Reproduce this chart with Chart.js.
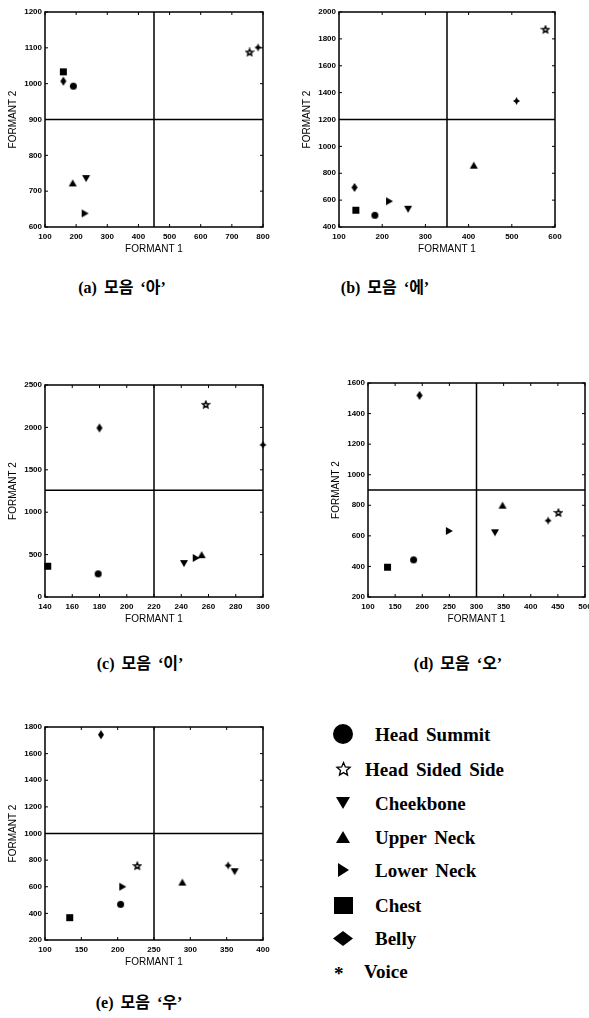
<!DOCTYPE html>
<html>
<head>
<meta charset="utf-8">
<script src="https://cdn.jsdelivr.net/npm/chart.js@4.4.1/dist/chart.umd.min.js"></script>
<style>
body { margin: 0; width: 589px; height: 1018px; overflow: hidden; background: #fff; position: relative; }
canvas { position: absolute; }
.cap { position: absolute; transform: translate(-50%, -50%); font: bold 16px "Liberation Serif", "Noto Sans CJK KR"; white-space: nowrap; word-spacing: 3px; line-height: 1; }
.leg { position: absolute; transform: translateY(-50%); font: bold 19px "Liberation Serif"; white-space: nowrap; word-spacing: 3px; line-height: 1; }
</style>
</head>
<body>
<script>
// categories (marker order)
const categories = ['Head Summit', 'Head Sided Side', 'Cheekbone', 'Upper Neck', 'Lower Neck', 'Chest', 'Belly', 'Voice'];
const captions = ["(a) 모음 ‘아’", "(b) 모음 ‘에’", "(c) 모음 ‘이’", "(d) 모음 ‘오’", "(e) 모음 ‘우’"];

// formant values per vowel
const f1A = [191, 757, 232, 189, 229, 159, 159, 784];
const f2A = [993, 1087, 735, 723, 638, 1033, 1007, 1101];
const f1B = [183, 578, 260, 412, 217, 139, 136, 511];
const f2B = [487, 1868, 532, 860, 592, 525, 694, 1338];
const f1C = [179, 258, 242, 255, 251, 142, 180, 300];
const f2C = [273, 2266, 394, 499, 460, 363, 1993, 1794];
const f1D = [184, 451, 334, 348, 250, 136, 195, 432];
const f2D = [443, 750, 620, 801, 632, 395, 1519, 700];
const f1E = [204, 227, 361, 289, 207, 134, 177, 352];
const f2E = [468, 755, 713, 635, 600, 368, 1742, 760];

// axis ticks: [min, max, step]
const xAxisA = [100, 800, 100], yAxisA = [600, 1200, 100];
const xAxisB = [100, 600, 100], yAxisB = [400, 2000, 200];
const xAxisC = [140, 300, 20], yAxisC = [0, 2500, 500];
const xAxisD = [100, 500, 50], yAxisD = [200, 1600, 200];
const xAxisE = [100, 400, 50], yAxisE = [200, 1800, 200];

// quadrant split lines [formant1, formant2]
const splitA = [450, 900];
const splitB = [350, 1200];
const splitC = [220, 1260];
const splitD = [300, 900];
const splitE = [250, 1000];

// layout
const YW = 40, PT = 10, PR = 12, XH = 28;
const panels = [
    { f1: f1A, f2: f2A, xAxis: xAxisA, yAxis: yAxisA, split: splitA, box: [45, 12, 263, 227], cap: [122, 288] },
    { f1: f1B, f2: f2B, xAxis: xAxisB, yAxis: yAxisB, split: splitB, box: [339, 12, 555, 227], cap: [385, 288] },
    { f1: f1C, f2: f2C, xAxis: xAxisC, yAxis: yAxisC, split: splitC, box: [45, 385, 263, 597], cap: [140, 664] },
    { f1: f1D, f2: f2D, xAxis: xAxisD, yAxis: yAxisD, split: splitD, box: [368, 383, 585, 597], cap: [458, 664] },
    { f1: f1E, f2: f2E, xAxis: xAxisE, yAxis: yAxisE, split: splitE, box: [45, 727, 263, 940], cap: [139, 1003] }
];

// marker shapes
function makeMarker(kind, w, h) {
    const c = document.createElement('canvas');
    c.width = w + 2; c.height = h + 2;
    const g = c.getContext('2d');
    const cx = c.width / 2, cy = c.height / 2;
    g.fillStyle = '#000'; g.strokeStyle = '#000';
    g.beginPath();
    if (kind === 'circle') {
        g.ellipse(cx, cy, w / 2, h / 2, 0, 0, 2 * Math.PI);
    } else if (kind === 'square') {
        g.rect(cx - w / 2, cy - h / 2, w, h);
    } else if (kind === 'diamond') {
        g.moveTo(cx, cy - h / 2); g.lineTo(cx + w / 2, cy); g.lineTo(cx, cy + h / 2); g.lineTo(cx - w / 2, cy);
    } else if (kind === 'up') {
        g.moveTo(cx, cy - h / 2); g.lineTo(cx + w / 2, cy + h / 2); g.lineTo(cx - w / 2, cy + h / 2);
    } else if (kind === 'down') {
        g.moveTo(cx - w / 2, cy - h / 2); g.lineTo(cx + w / 2, cy - h / 2); g.lineTo(cx, cy + h / 2);
    } else if (kind === 'right') {
        g.moveTo(cx - w / 2, cy - h / 2); g.lineTo(cx + w / 2, cy); g.lineTo(cx - w / 2, cy + h / 2);
    } else if (kind === 'spark') {
        for (let i = 0; i < 8; i++) {
            const a = -Math.PI / 2 + i * Math.PI / 4;
            const k = i % 2 ? 0.5 : 1;
            g.lineTo(cx + Math.cos(a) * w / 2 * k, cy + Math.sin(a) * h / 2 * k);
        }
    } else if (kind === 'star') {
        for (let i = 0; i < 10; i++) {
            const a = -Math.PI / 2 + i * Math.PI / 5;
            const k = i % 2 ? 0.45 : 1;
            g.lineTo(cx + Math.cos(a) * (w / 2 - 0.6) * k, cy + Math.sin(a) * (h / 2 - 0.6) * k);
        }
    }
    g.closePath();
    if (kind === 'star') { g.lineWidth = w > 10 ? 1.3 : 1.5; g.stroke(); }
    else g.fill();
    return c;
}

const kinds = ['circle', 'star', 'down', 'up', 'right', 'square', 'diamond', 'spark'];
const plotSizes = [[7, 7], [8, 8], [8, 7], [8, 7], [7, 8], [7, 7], [6, 9], [7, 8]];
const plotMarkers = kinds.map((k, i) => makeMarker(k, plotSizes[i][0], plotSizes[i][1]));

// frame, quadrant lines and inner tick marks
const framePlugin = {
    id: 'frame',
    beforeDatasetsDraw(chart, args, opts) {
        const { ctx, chartArea: a, scales: { x, y } } = chart;
        ctx.save();
        ctx.strokeStyle = '#000';
        ctx.lineWidth = 1.5;
        ctx.strokeRect(a.left, a.top, a.width, a.height);
        const sx = x.getPixelForValue(opts.split[0]);
        const sy = y.getPixelForValue(opts.split[1]);
        ctx.beginPath();
        ctx.moveTo(sx, a.top); ctx.lineTo(sx, a.bottom);
        ctx.moveTo(a.left, sy); ctx.lineTo(a.right, sy);
        ctx.stroke();
        ctx.lineWidth = 1;
        ctx.beginPath();
        x.ticks.forEach(t => {
            const px = x.getPixelForValue(t.value);
            ctx.moveTo(px, a.bottom); ctx.lineTo(px, a.bottom - 3);
            ctx.moveTo(px, a.top); ctx.lineTo(px, a.top + 3);
        });
        y.ticks.forEach(t => {
            const py = y.getPixelForValue(t.value);
            ctx.moveTo(a.left, py); ctx.lineTo(a.left + 3, py);
            ctx.moveTo(a.right, py); ctx.lineTo(a.right - 3, py);
        });
        ctx.stroke();
        ctx.restore();
    }
};

const tickFont = { family: 'Liberation Sans', size: 8, weight: 'bold' };
const titleFont = { family: 'Liberation Sans', size: 10 };

panels.forEach((p, n) => {
    const [l, t, r, b] = p.box;
    const cv = document.createElement('canvas');
    cv.width = (r - l) + YW + PR;
    cv.height = (b - t) + PT + XH;
    cv.style.left = (l - YW) + 'px';
    cv.style.top = (t - PT) + 'px';
    document.body.appendChild(cv);

    new Chart(cv.getContext('2d'), {
        type: 'scatter',
        data: {
            datasets: categories.map((c, i) => ({
                label: c,
                data: [{ x: p.f1[i], y: p.f2[i] }],
                pointStyle: plotMarkers[i],
                pointRadius: 4,
                clip: false
            }))
        },
        options: {
            responsive: false,
            animation: false,
            layout: { padding: { top: PT, right: PR, left: 0, bottom: 0 } },
            plugins: {
                legend: { display: false },
                tooltip: { enabled: false },
                frame: { split: p.split }
            },
            scales: {
                x: {
                    type: 'linear',
                    min: p.xAxis[0], max: p.xAxis[1],
                    grid: { display: false, drawTicks: false },
                    border: { display: false },
                    ticks: { stepSize: p.xAxis[2], autoSkip: false, maxRotation: 0, padding: 5, color: '#000', font: tickFont, callback: v => String(v) },
                    title: { display: true, text: 'FORMANT 1', color: '#000', font: titleFont, padding: { top: 0, bottom: 0 } },
                    afterFit: s => { s.height = XH; }
                },
                y: {
                    type: 'linear',
                    min: p.yAxis[0], max: p.yAxis[1],
                    grid: { display: false, drawTicks: false },
                    border: { display: false },
                    ticks: { stepSize: p.yAxis[2], autoSkip: false, padding: 3, color: '#000', font: tickFont, callback: v => String(v) },
                    title: { display: true, text: 'FORMANT 2', color: '#000', font: titleFont, padding: { top: 2, bottom: 0 } },
                    afterFit: s => { s.width = YW; }
                }
            }
        },
        plugins: [framePlugin]
    });

    const cap = document.createElement('div');
    cap.className = 'cap';
    cap.textContent = captions[n];
    cap.style.left = p.cap[0] + 'px';
    cap.style.top = p.cap[1] + 'px';
    document.body.appendChild(cap);
});

// legend
const legY = [734, 769, 803, 837, 870, 905, 938, 971];
const legTextX = [375, 365, 375, 375, 375, 375, 375, 364];
const legSizes = [[20, 20], [15, 15], [14, 12], [14, 12], [11, 14], [19, 17], [20, 15], [8, 8]];
categories.forEach((c, i) => {
    if (kinds[i] === 'spark') {
        const s = document.createElement('div');
        s.className = 'leg';
        s.textContent = '*';
        s.style.left = '334px';
        s.style.top = (legY[i] + 2) + 'px';
        document.body.appendChild(s);
    } else {
        const m = makeMarker(kinds[i], legSizes[i][0], legSizes[i][1]);
        m.style.left = (343 - m.width / 2) + 'px';
        m.style.top = (legY[i] - m.height / 2) + 'px';
        document.body.appendChild(m);
    }
    const d = document.createElement('div');
    d.className = 'leg';
    d.textContent = c;
    d.style.left = legTextX[i] + 'px';
    d.style.top = legY[i] + 'px';
    document.body.appendChild(d);
});
</script>
</body>
</html>
